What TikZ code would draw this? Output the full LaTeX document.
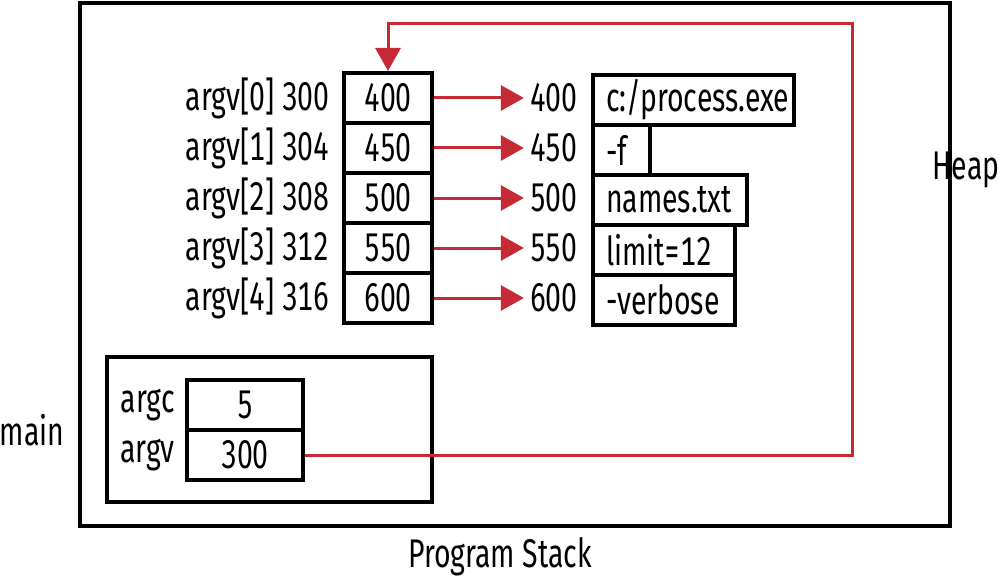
\documentclass[tikz,border=0pt]{standalone}
\usepackage{fontspec}
\setmainfont{Fira Sans}[FakeStretch=0.71, Numbers=Monospaced]
\usetikzlibrary{arrows.meta}
\definecolor{redline}{HTML}{C62A34}
\begin{document}
\begin{tikzpicture}[x=1pt,y=-1pt,
  every node/.style={font=\fontsize{40}{42}\selectfont, inner sep=0pt},
  cell/.style={draw=black, line width=4pt, minimum width=88pt, minimum height=50pt, anchor=center},
  hcell/.style={draw=black, line width=4pt, minimum height=50pt, anchor=north west, align=left, inner xsep=13pt},
  frame/.style={draw=black, line width=4.5pt},
  ptr/.style={draw=redline, line width=3pt, -{Triangle[length=23pt,width=25pt]}},
  lbl/.style={anchor=east}
]
\useasboundingbox (0,0) rectangle (999,583);
% outer frame
\node[frame, minimum width=870pt, minimum height=523pt] (stack) at (515,264.5) {};
% argv array cells
\foreach \i/\v/\y in {0/400/98,1/450/148,2/500/198,3/550/248,4/600/298}{
  \node[cell] (p\i) at (388,\y) {\v};
}
\foreach \i/\a in {0/300,1/304,2/308,3/312,4/316}{
  \node[lbl] (l\i) at ([xshift=-12pt]p\i.west) {argv[\i] \a};
}
% heap addresses
\foreach \i/\v in {0/400,1/450,2/500,3/550,4/600}{
  \node[anchor=east] (a\i) at (578,{98+50*\i}) {\v};
}
% heap strings
\node[hcell, text width=175pt] (s0) at (591,73) {c:/process.exe};
\node[hcell, text width=31pt] (s1) at (591,123) {-f};
\node[hcell, text width=128pt] (s2) at (591,173) {names.txt};
\node[hcell, text width=116pt] (s3) at (591,223) {limit=12};
\node[hcell, text width=116pt] (s4) at (591,273) {-verbose};
% arrows
\foreach \i in {0,...,4}{
  \draw[ptr] (p\i.east) -- ([xshift=-6pt]a\i.west);
}
% main frame
\node[draw=black, line width=4pt, minimum width=325pt, minimum height=145pt] (mainbox) at (269.5,429.5) {};
\node[cell, minimum width=116pt] (vc) at (245,405) {5};
\node[cell, minimum width=116pt] (vv) at (245,455) {300};
\node[anchor=east] (nc) at ([xshift=-10pt]vc.west) {argc};
\node[anchor=east] (nv) at ([xshift=-10pt]vv.west) {argv};
% long pointer
\coordinate (turn) at (852,24);
\draw[ptr] (vv.east) -| (turn) -| (p0.north);
% labels
\node (mainlbl) at (32,430) {main};
\node (heaplbl) at (966,170) {Heap};
\node (stacklbl) at (500,557) {Program Stack};
\end{tikzpicture}
\end{document}
